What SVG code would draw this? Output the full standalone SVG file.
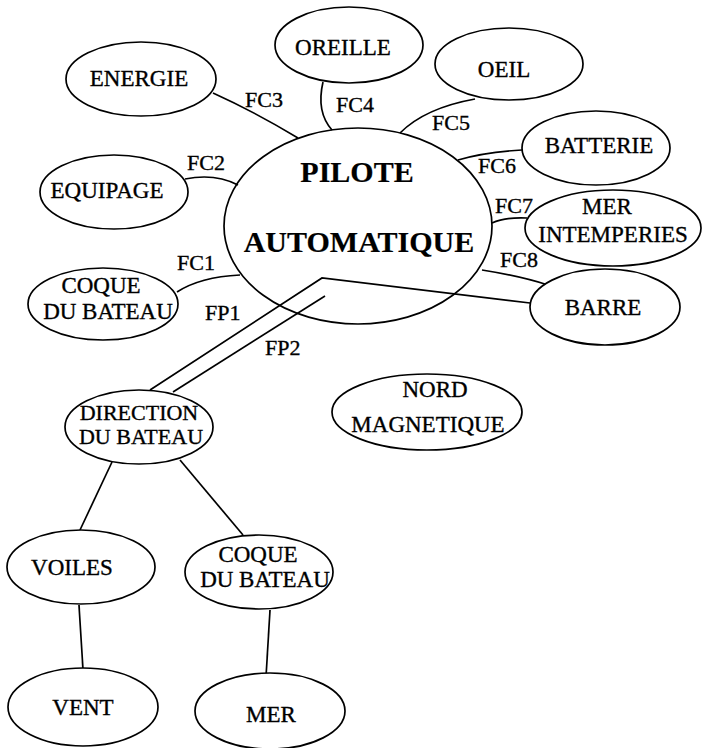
<svg xmlns="http://www.w3.org/2000/svg" width="707" height="748" viewBox="0 0 707 748">
<style>
ellipse{fill:#fff;stroke:#000;stroke-width:1.7}
.c path,.c line,.c polyline{fill:none;stroke:#000;stroke-width:1.7}
text{font-family:"Liberation Serif","Times New Roman",serif;font-size:23px;fill:#000;stroke:#000;stroke-width:0.35;text-anchor:middle}
.lbl{font-size:22px;text-anchor:start}
.big{font-size:30px;font-weight:bold;stroke-width:0.2}
</style>
<rect width="707" height="748" fill="#fff"/>
<g class="c" id="connectors">
<path d="M213,93 Q255,112 298,138"/>
<path d="M323,82 Q316,112 332,130"/>
<path d="M475,99 Q425,108 400,133"/>
<path d="M522,150 Q485,152 458,160"/>
<path d="M527,218 Q505,217 492,223"/>
<path d="M482,270 Q520,276 548,285"/>
<path d="M185,179 Q215,173 238,185"/>
<path d="M177,292 Q200,277 240,275"/>
<polyline points="150,390 322,278 530,303"/>
<line x1="173" y1="392" x2="325" y2="296"/>
<line x1="112" y1="462" x2="80" y2="530"/>
<line x1="180" y1="460" x2="243" y2="535"/>
<line x1="79" y1="605" x2="83" y2="670"/>
<line x1="270" y1="610" x2="266" y2="677"/>
<text class="lbl" x="245" y="107">FC3</text>
<text class="lbl" x="336" y="112">FC4</text>
<text class="lbl" x="432" y="130">FC5</text>
<text class="lbl" x="478" y="173">FC6</text>
<text class="lbl" x="495" y="213">FC7</text>
<text class="lbl" x="500" y="267">FC8</text>
<text class="lbl" x="187" y="170">FC2</text>
<text class="lbl" x="177" y="270">FC1</text>
<text class="lbl" x="205" y="320">FP1</text>
<text class="lbl" x="265" y="355">FP2</text>
</g>
<g id="pilote"><ellipse cx="358" cy="226" rx="134" ry="98" style="fill:none"/><text class="big" x="357" y="182">PILOTE</text><text class="big" x="359" y="252">AUTOMATIQUE</text></g>
<g id="energie"><ellipse cx="141" cy="79" rx="75" ry="37"/><text x="139" y="86">ENERGIE</text></g>
<g id="equipage"><ellipse cx="114" cy="192" rx="74" ry="37"/><text x="107" y="198">EQUIPAGE</text></g>
<g id="oreille"><ellipse cx="349" cy="45" rx="74" ry="38"/><text x="343" y="55">OREILLE</text></g>
<g id="oeil"><ellipse cx="509" cy="64" rx="74" ry="36"/><text x="504" y="77">OEIL</text></g>
<g id="batterie"><ellipse cx="596" cy="148" rx="74" ry="37"/><text x="599" y="153">BATTERIE</text></g>
<g id="mer-intemperies"><ellipse cx="613" cy="228" rx="88" ry="38"/><text x="607" y="214">MER</text><text x="613" y="242">INTEMPERIES</text></g>
<g id="barre"><ellipse cx="605" cy="307" rx="75" ry="38"/><text x="603" y="315">BARRE</text></g>
<g id="nord"><ellipse cx="427" cy="412" rx="95" ry="38"/><text x="435" y="397">NORD</text><text x="428" y="432">MAGNETIQUE</text></g>
<g id="coque1"><ellipse cx="103" cy="304" rx="75" ry="36"/><text x="101" y="293">COQUE</text><text x="108" y="319">DU BATEAU</text></g>
<g id="direction"><ellipse cx="139" cy="427" rx="74" ry="37"/><text x="139" y="420" style="font-size:22px">DIRECTION</text><text x="141" y="444" style="font-size:22px">DU BATEAU</text></g>
<g id="voiles"><ellipse cx="81" cy="567" rx="74" ry="37"/><text x="72" y="575">VOILES</text></g>
<g id="coque2"><ellipse cx="259" cy="572" rx="74" ry="37"/><text x="258" y="562">COQUE</text><text x="265" y="587">DU BATEAU</text></g>
<g id="vent"><ellipse cx="83" cy="707" rx="75" ry="39"/><text x="83" y="715">VENT</text></g>
<g id="mer"><ellipse cx="270" cy="711" rx="75" ry="38"/><text x="271" y="722">MER</text></g>
</svg>
